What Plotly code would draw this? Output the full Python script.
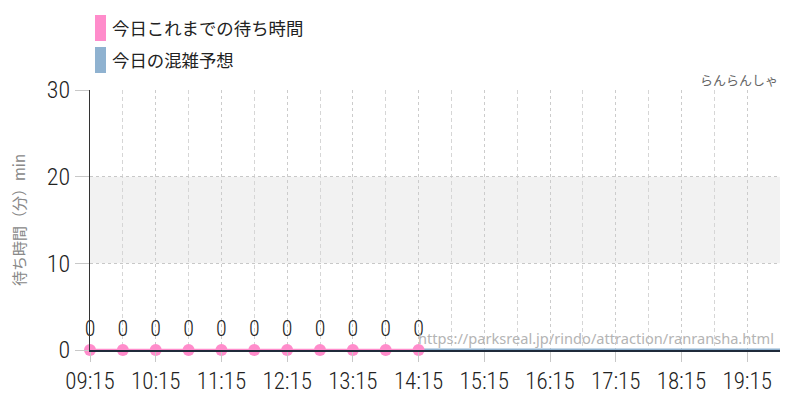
import plotly.graph_objects as go

times_today = ["09:15", "09:45", "10:15", "10:45", "11:15", "11:45", "12:15",
               "12:45", "13:15", "13:45", "14:15"]
wait_today = [0, 0, 0, 0, 0, 0, 0, 0, 0, 0, 0]
times_forecast = ["14:15", "19:45"]
wait_forecast = [0, 0]
series_names = ["今日これまでの待ち時間", "今日の混雑予想"]
series_colors = ["#ff8ccb", "#8fb2d0"]
attraction = "らんらんしゃ"
source_url = "https://parksreal.jp/rindo/attraction/ranransha.html"
y_title = "待ち時間（分）min"
day = "2024-01-01 "

FONT_C = "Roboto Condensed, Liberation Sans Narrow, DejaVu Sans Condensed, sans-serif"
FONT_J = "Noto Sans CJK JP, sans-serif"

fig = go.Figure()
fig.add_trace(go.Scatter(
    x=[day + t for t in times_forecast], y=wait_forecast, mode="lines",
    line=dict(color=series_colors[1], width=3), hoverinfo="skip", showlegend=False,
    cliponaxis=False))
fig.add_trace(go.Scatter(
    x=[day + t for t in times_today], y=wait_today, mode="lines+markers+text",
    line=dict(color=series_colors[0], width=2.5),
    marker=dict(color=series_colors[0], size=12),
    text=[str(v) for v in wait_today], textposition="top center",
    textfont=dict(family=FONT_C, size=22, color="#222", weight=300),
    showlegend=False, cliponaxis=False))

fig.add_shape(type="rect", xref="paper", yref="y", x0=0, x1=1, y0=10, y1=20,
              fillcolor="#f2f2f2", line=dict(width=0), layer="below")

# custom legend
for i, (name, col) in enumerate(zip(series_names, series_colors)):
    ytop = 15 + i * 32
    fig.add_shape(type="rect", xref="paper", yref="paper",
                  x0=(95 - 90) / 690, x1=(106 - 90) / 690,
                  y0=(350 - ytop) / 260, y1=(350 - ytop - 26) / 260,
                  fillcolor=col, line=dict(width=0))
    fig.add_annotation(xref="paper", yref="paper", x=(110 - 90) / 690,
                       y=(350 - ytop - 13) / 260, text=name, showarrow=False,
                       xanchor="left", yanchor="middle",
                       font=dict(family=FONT_J, size=17.4, color="#222"))

fig.add_annotation(xref="paper", yref="paper", x=1, y=(350 - 80) / 260,
                   text=attraction, showarrow=False, xanchor="right",
                   yanchor="middle", font=dict(family=FONT_J, size=13, color="#666"))
fig.add_annotation(xref="paper", yref="paper", x=(776 - 90) / 690,
                   y=(350 - 338) / 260, text=source_url, showarrow=False,
                   xanchor="right", yanchor="middle",
                   font=dict(family="Noto Sans, sans-serif", size=14.6, color="#b4b4b4"))

fig.update_layout(
    width=792, height=392,
    margin=dict(l=82, r=20, t=82, b=50),
    plot_bgcolor="white", paper_bgcolor="white",
    xaxis=dict(
        type="date", range=[day + "09:15", day + "19:45"], automargin=False,
        tick0=day + "09:15", dtick=3600000, tickformat="%H:%M",
        ticks="outside", ticklen=10, tickcolor="#c8c8c8",
        tickfont=dict(family=FONT_C, size=23, color="#222", weight=300),
        showgrid=True, gridcolor="#cccccc", griddash="dot", gridwidth=1,
        minor=dict(dtick=1800000, tick0=day + "09:15", showgrid=True,
                   gridcolor="#d6d6d6", griddash="4px,3px", gridwidth=1),
        showline=True, linecolor="#1f2a3a", linewidth=1.5,
        layer="above traces", zeroline=False,
    ),
    yaxis=dict(
        range=[0, 30], dtick=10, tick0=0, automargin=False,
        ticks="outside", ticklen=14, tickcolor="#c8c8c8",
        tickfont=dict(family=FONT_C, size=24, color="#222", weight=300),
        showgrid=True, gridcolor="#c8c8c8", griddash="dot",
        showline=True, linecolor="#333", linewidth=1,
        zeroline=False,
        title=dict(text=y_title, standoff=24,
                   font=dict(family=FONT_J, size=15, color="#888")),
    ),
)

fig.write_html("out.html")
